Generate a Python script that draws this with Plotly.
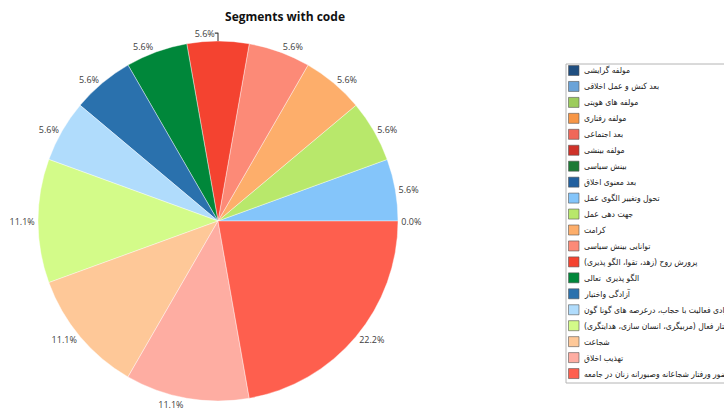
import plotly.graph_objects as go

W, H = 724, 412

labels = [
    "مولفه گرایشی",
    "بعد کنش و عمل اخلاقی",
    "مولفه های هویتی",
    "مولفه رفتاری",
    "بعد اجتماعی",
    "مولفه بینشی",
    "بینش سیاسی",
    "بعد معنوی اخلاق",
    "تحول وتغییر الگوی عمل",
    "جهت دهی عمل",
    "کرامت",
    "توانایی بینش سیاسی",
    "پرورش روح (زهد، تقوا، الگو پذیری)",
    "الگو پذیری  تعالی",
    "آزادگی واختیار",
    "آزادی فعالیت با حجاب، درعرصه های گونا گون",
    "رفتار فعال (مربیگری، انسان سازی، هدایتگری)",
    "شجاعت",
    "تهذیب اخلاق",
    "حضور ورفتار شجاعانه وصبورانه زنان در جامعه",
]

values = [0, 0, 0, 0, 0, 0, 0, 0, 1, 1, 1, 1, 1, 1, 1, 1, 2, 2, 2, 4]

colors = [
    "#1f4e80", "#6aa3d8", "#9ccc5c", "#f79646", "#f0675a", "#cf3229",
    "#1b7a35", "#22609f", "#84c5fa", "#b8e86b", "#fdae6b", "#fc8a77",
    "#f44330", "#00873a", "#2a71ad", "#b0dcfc", "#d3fb89", "#fec898",
    "#feada2", "#fe5f4e",
]

title_text = "Segments with code"


def px(x):
    """page pixel x -> paper fraction"""
    return x / W


def py(y):
    """page pixel y (from top) -> paper fraction"""
    return 1 - y / H


# zero-size slices all sit at the same spot: label only one of them
first_zero = values.index(0)
text_pos = ["outside" if (v > 0 or i == first_zero) else "none"
            for i, v in enumerate(values)]

fig = go.Figure()
fig.add_trace(go.Pie(
    labels=labels,
    values=values,
    sort=False,
    direction="counterclockwise",
    rotation=90,
    marker=dict(colors=colors, line=dict(color="white", width=0.4)),
    textinfo="percent",
    texttemplate="%{percent:.1%}",
    textposition=text_pos,
    outsidetextfont=dict(family="Open Sans, DejaVu Sans", size=9, color="#404040"),
    domain=dict(x=[px(38), px(398)], y=[py(401), py(41)]),
    showlegend=False,
    hoverinfo="label+percent",
))

# legend box drawn manually (compact row spacing as in the reference)
box_left, box_top, box_bottom = 566, 64, 383
row0, row_step = 70.5, 15.95
legend_font = "DejaVu Sans Condensed, DejaVu Sans"
shapes = [dict(type="rect", xref="paper", yref="paper",
               x0=px(box_left), x1=px(W + 20), y0=py(box_bottom), y1=py(box_top),
               line=dict(color="#b4b4b4", width=1), fillcolor="white", layer="below")]
annotations = []
for i, (lab, col) in enumerate(zip(labels, colors)):
    yc = row0 + i * row_step
    shapes.append(dict(type="rect", xref="paper", yref="paper",
                       x0=px(568.5), x1=px(579), y0=py(yc + 5), y1=py(yc - 5),
                       line=dict(color="#555555", width=0.6), fillcolor=col))
    annotations.append(dict(xref="paper", yref="paper", x=px(582), y=py(yc),
                            xanchor="left", yanchor="middle", showarrow=False,
                            text=lab, font=dict(family=legend_font, size=8.5, color="#222222")))

fig.update_layout(
    width=W, height=H,
    margin=dict(l=0, r=0, t=0, b=0, autoexpand=False),
    paper_bgcolor="white",
    plot_bgcolor="white",
    title=dict(text="<b>" + title_text + "</b>", x=px(285), xanchor="center",
               y=py(17), yanchor="middle",
               font=dict(family="Open Sans, DejaVu Sans", size=12, color="#111111")),
    shapes=shapes,
    annotations=annotations,
)

fig.write_html(
    "out.html",
    config={"displayModeBar": False},
    post_script="document.body.style.margin='0';document.body.style.overflow='hidden';",
)
